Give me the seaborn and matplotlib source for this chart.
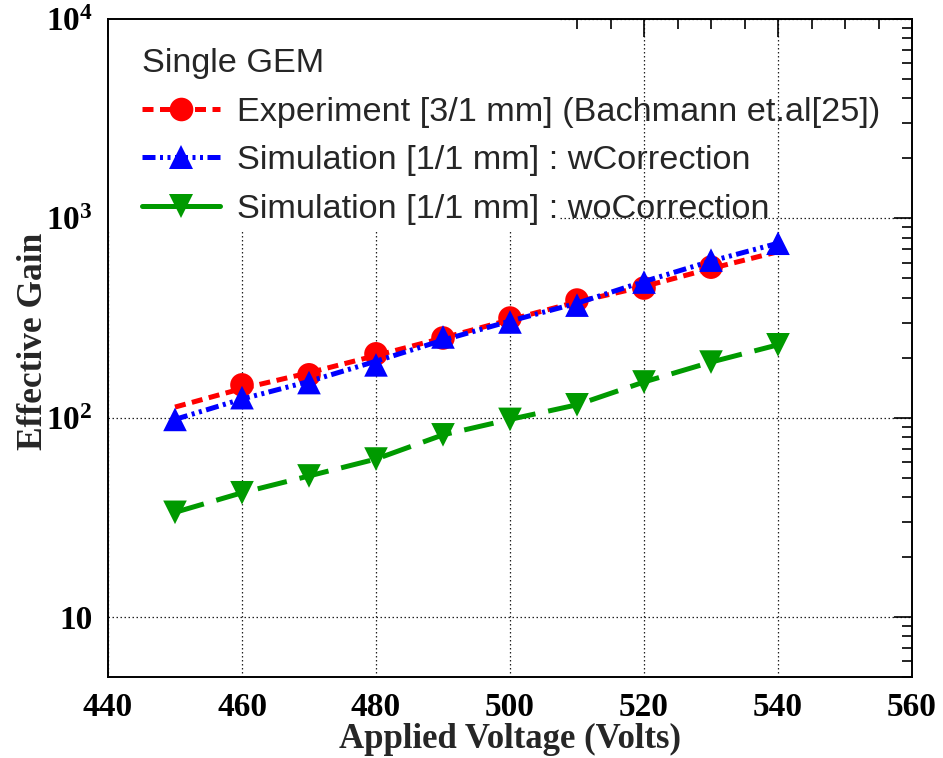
import numpy as np
import pandas as pd
import seaborn as sns
import matplotlib
matplotlib.use("Agg")
import matplotlib.pyplot as plt
from matplotlib.lines import Line2D
from matplotlib.patches import Rectangle
from matplotlib.ticker import FixedLocator, FixedFormatter, MultipleLocator, NullFormatter

# ---------------- data ----------------
exp_voltage = [460, 470, 480, 490, 500, 510, 520, 530]
exp_gain = [146, 164, 209, 251, 316, 389, 447, 569]
exp_line_voltage = [450, 460, 470, 480, 490, 500, 510, 520, 530, 540]
exp_line_gain = [113, 140, 168, 205, 251, 310, 381, 455, 560, 680]

sim_voltage = [450, 460, 470, 480, 490, 500, 510, 520, 530, 540]
simw_gain = [98, 126, 150, 184, 254, 302, 367, 479, 617, 750]
simw_line_gain = [98, 124, 152, 192, 245, 305, 375, 482, 610, 750]
simwo_gain = [33.5, 42, 51, 62, 82, 98, 116, 151, 190, 232]

legend_title = "Single GEM"
labels = ["Experiment [3/1 mm] (Bachmann et.al[25])",
          "Simulation [1/1 mm] : wCorrection",
          "Simulation [1/1 mm] : woCorrection"]
xticks = [440, 460, 480, 500, 520, 540, 560]
yticks = [10, 100, 1000, 10000]
ytick_labels = ["10", r"$\mathbf{10^{2}}$", r"$\mathbf{10^{3}}$", r"$\mathbf{10^{4}}$"]

RED = "#ff0000"
BLUE = "#0000ff"
GREEN = "#009a00"

sns.set_theme(style="white")
plt.rcParams["font.family"] = ["Liberation Serif", "DejaVu Serif"]
plt.rcParams["mathtext.fontset"] = "custom"
plt.rcParams["mathtext.bf"] = "Liberation Serif:bold"
plt.rcParams["mathtext.rm"] = "Liberation Serif:bold"

fig = plt.figure(figsize=(9.43, 7.58), dpi=100)
ax = fig.add_axes([108 / 943, 1 - 677 / 758, (912 - 108) / 943, (677 - 19) / 758])

df_exp_line = pd.DataFrame({"V": exp_line_voltage, "G": exp_line_gain})
df_exp = pd.DataFrame({"V": exp_voltage, "G": exp_gain})
df_sim = pd.DataFrame({"V": sim_voltage, "Gw": simw_gain, "Gwl": simw_line_gain, "Gwo": simwo_gain})

LW = 3.6
red_ls = (0, (2.2, 1.3))
blue_ls = (0, (2.6, 0.9, 0.6, 0.9, 0.6, 0.9))
green_ls = (0, (6.0, 2.6))

sns.lineplot(data=df_exp_line, x="V", y="G", ax=ax, color=RED, lw=LW, linestyle=red_ls, zorder=3)
sns.scatterplot(data=df_exp, x="V", y="G", ax=ax, color=RED, marker="o", s=17**2, edgecolor="none", zorder=4)
sns.lineplot(data=df_sim, x="V", y="Gwl", ax=ax, color=BLUE, lw=LW, linestyle=blue_ls, zorder=5)
sns.scatterplot(data=df_sim, x="V", y="Gw", ax=ax, color=BLUE, marker="^", s=17**2, edgecolor="none", zorder=6)
sns.lineplot(data=df_sim, x="V", y="Gwo", ax=ax, color=GREEN, lw=LW, linestyle=green_ls, zorder=3)
sns.scatterplot(data=df_sim, x="V", y="Gwo", ax=ax, color=GREEN, marker="v", s=17**2, edgecolor="none", zorder=4)

ax.set_yscale("log")
ax.set_xlim(440, 560)
ax.set_ylim(5, 1e4)

# ticks
ax.xaxis.set_major_locator(FixedLocator(xticks))
ax.xaxis.set_minor_locator(MultipleLocator(5))
ax.yaxis.set_major_locator(FixedLocator(yticks))
minors = [m * 10 ** e for e in range(0, 4) for m in range(2, 10)]
ax.yaxis.set_minor_locator(FixedLocator(minors))
ax.yaxis.set_major_formatter(FixedFormatter(ytick_labels))
ax.yaxis.set_minor_formatter(NullFormatter())
ax.tick_params(which="both", direction="in", top=True, right=True, colors="black",
               width=1.2)
ax.tick_params(which="major", length=13, pad=11, labelsize=24)
ax.tick_params(which="minor", length=7)
for lab in ax.get_xticklabels() + ax.get_yticklabels():
    lab.set_fontweight("bold")

for sp in ax.spines.values():
    sp.set_color("black")
    sp.set_linewidth(1.4)

ax.grid(True, which="major", color="#222222", linestyle=(0, (1.2, 2.0)), linewidth=0.9)
ax.set_axisbelow(True)

ax.set_xlabel("Applied Voltage (Volts)", fontsize=25, fontweight="bold", labelpad=0)
ax.set_ylabel("Effective Gain", fontsize=25.5, fontweight="bold")
ax.yaxis.set_label_coords(-0.072, 0.51)

# white legend background box covering grid
ax.add_patch(Rectangle((0, 0.676), 0.562, 0.324, transform=ax.transAxes,
                       facecolor="white", edgecolor="none", zorder=1))

handles = [
    Line2D([], [], color=RED, lw=LW, linestyle=red_ls, marker="o", markersize=17, markeredgewidth=0),
    Line2D([], [], color=BLUE, lw=LW, linestyle=blue_ls, marker="^", markersize=17, markeredgewidth=0),
    Line2D([], [], color=GREEN, lw=LW, linestyle="-", marker="v", markersize=17, markeredgewidth=0),
]
leg = ax.legend(handles, labels, title=legend_title, loc="upper left",
                bbox_to_anchor=(0.008, 0.998), frameon=False, alignment="left",
                prop={"family": "Liberation Sans", "size": 24.7},
                title_fontproperties={"family": "Liberation Sans", "size": 24.7},
                handlelength=2.28, handletextpad=0.48, labelspacing=0.52, borderpad=0.3)
leg.set_zorder(10)

fig.savefig("out.png", dpi=100)
